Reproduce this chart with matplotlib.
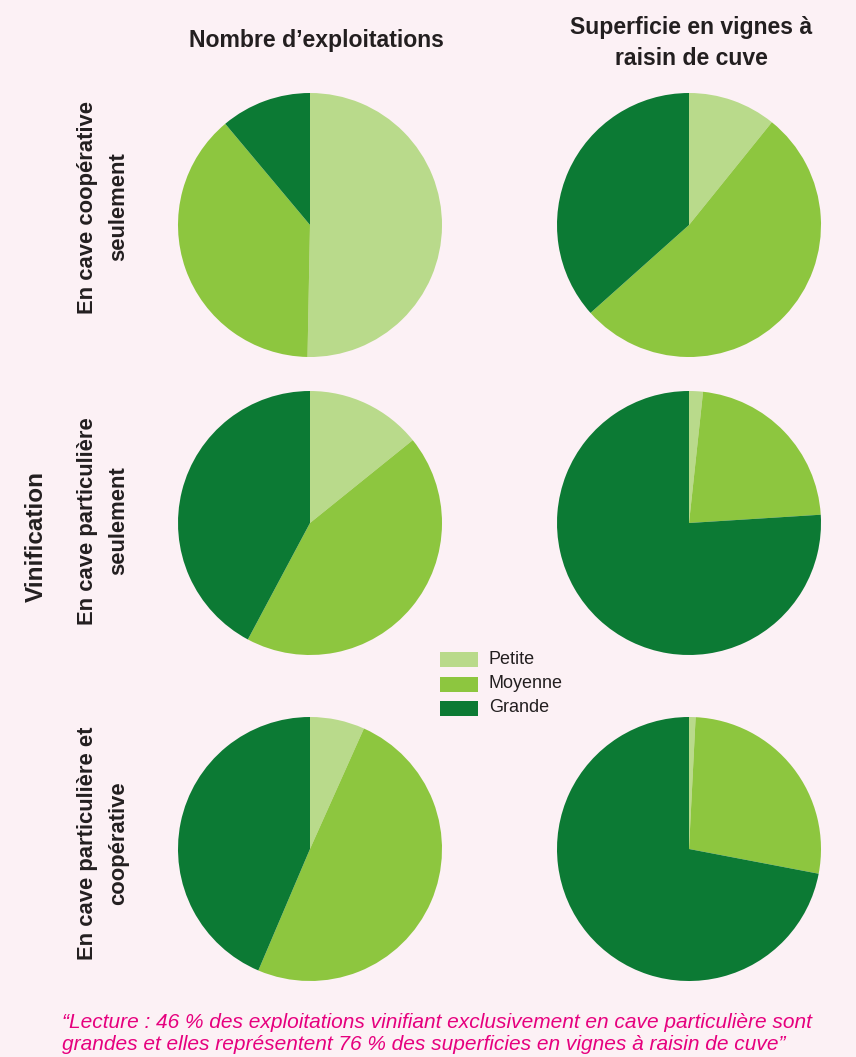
import matplotlib
matplotlib.use("Agg")
import matplotlib.pyplot as plt
from matplotlib.patches import Rectangle

# ---- data ----
categories = ["Petite", "Moyenne", "Grande"]
row_labels = ["En cave coopérative\nseulement",
              "En cave particulière\nseulement",
              "En cave particulière et\ncoopérative"]
col_titles = ["Nombre d’exploitations", "Superficie en vignes à\nraisin de cuve"]
nombre_coop = [50.3, 38.6, 11.1]
nombre_part = [14.2, 43.6, 42.2]
nombre_mixte = [6.7, 49.7, 43.6]
surface_coop = [10.8, 52.6, 36.6]
surface_part = [1.7, 22.3, 76.0]
surface_mixte = [0.8, 27.2, 72.0]
caption = ("“Lecture : 46 % des exploitations vinifiant exclusivement en cave particulière sont\n"
           "grandes et elles représentent 76 % des superficies en vignes à raisin de cuve”")

colors = ["#B9DA8B", "#8DC63F", "#0C7A34"]
bg = "#FCF1F5"
fam = ["Liberation Sans", "DejaVu Sans"]

W, H = 856, 1057
fig = plt.figure(figsize=(W / 100, H / 100), dpi=100)
fig.patch.set_facecolor(bg)

def fx(x):
    return x / W

def fy(y):
    return 1 - y / H

data = [[nombre_coop, surface_coop],
        [nombre_part, surface_part],
        [nombre_mixte, surface_mixte]]
centers_x = [310, 689]
centers_y = [225, 523, 849]
R = 132

for i, row in enumerate(data):
    for j, vals in enumerate(row):
        cx, cy = centers_x[j], centers_y[i]
        ax = fig.add_axes([fx(cx - R), fy(cy + R), 2 * R / W, 2 * R / H])
        ax.pie(vals, colors=colors, startangle=90, counterclock=False,
               radius=1.0, wedgeprops=dict(linewidth=0))
        ax.set_xlim(-1, 1)
        ax.set_ylim(-1, 1)
        ax.set_aspect("equal")
        ax.axis("off")

# column titles
fig.text(fx(316), fy(41), col_titles[0], ha="center", va="center",
         fontsize=16.6, fontweight="bold", family=fam, color="#231F20")
fig.text(fx(691), fy(43), col_titles[1], ha="center", va="center",
         fontsize=16.6, fontweight="bold", family=fam, color="#231F20",
         linespacing=1.4)

# row labels
row_y = [207, 521, 843]
for lab, y in zip(row_labels, row_y):
    fig.text(fx(103), fy(y), lab, ha="center", va="center", rotation=90,
             fontsize=15.8, fontweight="bold", family=fam, color="#231F20",
             linespacing=1.6, multialignment="center")

fig.text(fx(36), fy(537), "Vinification", ha="center", va="center", rotation=90,
         fontsize=17.5, fontweight="bold", family=fam, color="#231F20")

# legend
leg_y = [659, 684, 708]
for c, lab, y in zip(colors, categories, leg_y):
    fig.patches.append(Rectangle((fx(440), fy(y + 7.5)), 38 / W, 15 / H,
                                 transform=fig.transFigure, facecolor=c,
                                 edgecolor="none"))
    fig.text(fx(489), fy(y), lab, ha="left", va="center", fontsize=13,
             family=fam, color="#231F20")

# caption
fig.text(fx(62), fy(1033), caption, ha="left", va="center", fontsize=15.0,
         style="italic", family=fam, color="#E6007E", linespacing=1.2,
         multialignment="left")

fig.savefig("out.png", dpi=100, facecolor=bg)
